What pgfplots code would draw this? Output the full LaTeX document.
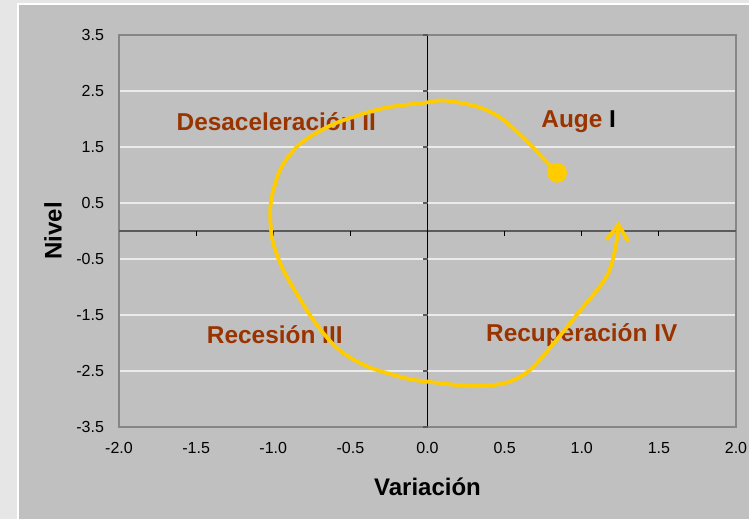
\documentclass[border=0pt]{standalone}
\usepackage{fontspec}
\setmainfont{Liberation Sans}
\usepackage{pgfplots}
\pgfplotsset{compat=1.18}
\usetikzlibrary{arrows.meta}
\definecolor{bgout}{HTML}{E6E6E6}
\definecolor{chartgray}{HTML}{C0C0C0}
\definecolor{framegray}{HTML}{868686}
\definecolor{zerogray}{HTML}{5A5A5A}
\definecolor{curveyellow}{HTML}{FFCC00}
\definecolor{labelbrown}{HTML}{993300}

\begin{document}
\begin{tikzpicture}
\useasboundingbox (0,0) rectangle (374.5pt,259.5pt);
% outer frame
\fill[bgout] (0,0) rectangle (374.5pt,259.5pt);
\fill[white] (8.5pt,0) rectangle (374.5pt,258pt);
\fill[chartgray] (9.5pt,0) rectangle (374.5pt,257pt);
\begin{axis}[
  at={(59.5pt,46pt)}, anchor=south west,
  scale only axis, width=308.5pt, height=196pt,
  xmin=-2, xmax=2, ymin=-3.5, ymax=3.5,
  axis line style={framegray, line width=1pt},
  xtick={-2,-1.5,-1,-0.5,0,0.5,1,1.5,2},
  xticklabels={-2.0,-1.5,-1.0,-0.5,0.0,0.5,1.0,1.5,2.0},
  ytick={-3.5,-2.5,-1.5,-0.5,0.5,1.5,2.5,3.5},
  yticklabels={-3.5,-2.5,-1.5,-0.5,0.5,1.5,2.5,3.5},
  major tick length=0pt,
  ymajorgrids, grid style={white!92!black, line width=0.75pt},
  tick label style={font=\fontsize{8}{9}\selectfont},
  yticklabel style={xshift=-4pt},
  xticklabel style={yshift=-4pt},
  clip=false,
]
% axes crossing at the origin
\draw[zerogray, line width=1pt] (axis cs:-2,0) -- (axis cs:2,0);
\draw[black, line width=0.7pt] (axis cs:0,-3.5) -- (axis cs:0,3.5);
\pgfplotsinvokeforeach{-1.5,-1,-0.5,0,0.5,1,1.5}{
  \draw[black, line width=0.5pt] (axis cs:#1,0) -- ++(0pt,-2.5pt);
}
\pgfplotsinvokeforeach{-3.5,-2.5,-1.5,-0.5,0.5,1.5,2.5,3.5}{
  \draw[zerogray, line width=0.75pt] (axis cs:0,#1) -- ++(-2.5pt,0pt);
}
% quadrant labels
\node[font=\bfseries\fontsize{12.2}{14}\selectfont, labelbrown] at (axis cs:-0.98,1.95) {Desaceleración II};
\node[font=\bfseries\fontsize{12.2}{14}\selectfont, labelbrown] at (axis cs:0.98,1.95) {Auge \textcolor{black}{I}};
\node[font=\bfseries\fontsize{12.2}{14}\selectfont, labelbrown] at (axis cs:-0.99,-1.86) {Recesión III};
\node[font=\bfseries\fontsize{12.2}{14}\selectfont, labelbrown] at (axis cs:1.0,-1.86) {Recuperación IV};
% cycle
\addplot[curveyellow, line width=1.9pt, smooth, -{Straight Barb[length=8pt,width=11pt]}] coordinates {
  (0.84,1.04) (0.76,1.27) (0.635,1.625) (0.48,2.01) (0.325,2.22) (0.11,2.33)
  (-0.02,2.29) (-0.29,2.19) (-0.60,1.92) (-0.82,1.57) (-0.945,1.15) (-1.005,0.67)
  (-1.02,0.32) (-1.005,-0.16) (-0.945,-0.64) (-0.85,-1.11) (-0.725,-1.65)
  (-0.575,-2.12) (-0.39,-2.42) (-0.14,-2.63) (0.0,-2.69) (0.29,-2.77) (0.51,-2.71)
  (0.665,-2.48) (0.82,-2.0) (0.975,-1.47) (1.16,-0.82) (1.22,-0.28) (1.24,0.17)
};
\addplot[only marks, mark=*, mark size=4.75pt, curveyellow] coordinates {(0.84,1.04)};
\end{axis}
% axis titles
\node[font=\bfseries\fontsize{12}{14}\selectfont] at (213.75pt,16pt) {Variación};
\node[font=\bfseries\fontsize{12}{14}\selectfont, rotate=90] at (26.5pt,144pt) {Nivel};
\end{tikzpicture}
\end{document}
